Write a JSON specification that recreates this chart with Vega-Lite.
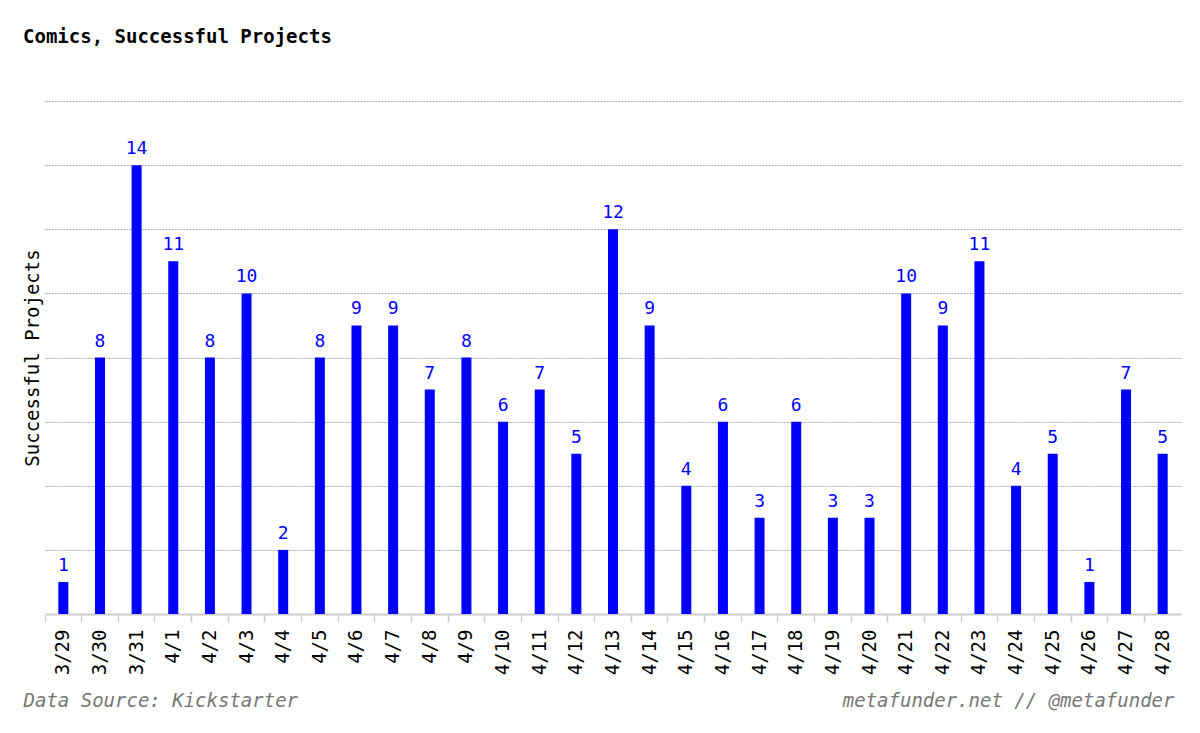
{
  "$schema": "https://vega.github.io/schema/vega-lite/v6.json",
  "width": 1136,
  "height": 513,
  "autosize": {"type": "none"},
  "padding": {"left": 45, "top": 101, "right": 19, "bottom": 119},
  "background": "white",
  "config": {
    "view": {"stroke": null},
    "font": "DejaVu Sans Mono"
  },
  "title": {
    "text": "Comics, Successful Projects",
    "anchor": "start",
    "frame": "group",
    "dx": -22,
    "offset": 54,
    "font": "DejaVu Sans Mono",
    "fontSize": 19,
    "fontWeight": "bold",
    "color": "black"
  },
  "data": {
    "values": [
      {"date": "3/29", "count": 1},
      {"date": "3/30", "count": 8},
      {"date": "3/31", "count": 14},
      {"date": "4/1", "count": 11},
      {"date": "4/2", "count": 8},
      {"date": "4/3", "count": 10},
      {"date": "4/4", "count": 2},
      {"date": "4/5", "count": 8},
      {"date": "4/6", "count": 9},
      {"date": "4/7", "count": 9},
      {"date": "4/8", "count": 7},
      {"date": "4/9", "count": 8},
      {"date": "4/10", "count": 6},
      {"date": "4/11", "count": 7},
      {"date": "4/12", "count": 5},
      {"date": "4/13", "count": 12},
      {"date": "4/14", "count": 9},
      {"date": "4/15", "count": 4},
      {"date": "4/16", "count": 6},
      {"date": "4/17", "count": 3},
      {"date": "4/18", "count": 6},
      {"date": "4/19", "count": 3},
      {"date": "4/20", "count": 3},
      {"date": "4/21", "count": 10},
      {"date": "4/22", "count": 9},
      {"date": "4/23", "count": 11},
      {"date": "4/24", "count": 4},
      {"date": "4/25", "count": 5},
      {"date": "4/26", "count": 1},
      {"date": "4/27", "count": 7},
      {"date": "4/28", "count": 5}
    ]
  },
  "encoding": {
    "x": {
      "field": "date",
      "type": "ordinal",
      "sort": null,
      "scale": {"paddingInner": 0, "paddingOuter": 0}
    },
    "y": {
      "field": "count",
      "type": "quantitative",
      "scale": {"domain": [0, 16], "nice": false}
    }
  },
  "layer": [
    {
      "mark": {"type": "bar", "color": "#0000ff", "size": 10},
      "encoding": {
        "x": {
          "field": "date",
          "type": "ordinal",
          "sort": null,
          "axis": {
            "labelAngle": -90,
            "labelAlign": "right",
            "labelBaseline": "middle",
            "labelFontSize": 19,
            "labelColor": "black",
            "labelPadding": 7,
            "labelFont": "DejaVu Sans Mono",
            "bandPosition": 0,
            "tickColor": "#cccccc",
            "tickWidth": 1.5,
            "tickSize": 8,
            "domainColor": "#cccccc",
            "domainWidth": 2,
            "grid": false,
            "title": "Data Source: Kickstarter",
            "titleFont": "DejaVu Sans Mono",
            "titleFontSize": 19,
            "titleFontStyle": "italic",
            "titleFontWeight": "normal",
            "titleColor": "#777777",
            "titleAnchor": "start",
            "titleAlign": "left",
            "titleBaseline": "middle",
            "titleX": -22,
            "titleY": 86
          }
        },
        "y": {
          "field": "count",
          "type": "quantitative",
          "axis": {
            "labels": false,
            "ticks": false,
            "domain": false,
            "values": [2, 4, 6, 8, 10, 12, 14, 16],
            "grid": true,
            "gridColor": "#aaaaaa",
            "gridDash": [2, 1],
            "gridWidth": 1,
            "title": "Successful Projects",
            "titleFont": "DejaVu Sans Mono",
            "titleFontSize": 19,
            "titleFontWeight": "normal",
            "titleColor": "black",
            "titlePadding": 3
          }
        }
      }
    },
    {
      "mark": {
        "type": "text",
        "color": "#0000ff",
        "baseline": "bottom",
        "dy": -7,
        "fontSize": 18,
        "font": "DejaVu Sans Mono"
      },
      "encoding": {
        "text": {"field": "count", "type": "quantitative"},
        "x": {
          "field": "date",
          "type": "ordinal",
          "sort": null,
          "axis": {
            "orient": "bottom",
            "labels": false,
            "ticks": false,
            "domain": false,
            "grid": false,
            "title": "metafunder.net // @metafunder",
            "titleFont": "DejaVu Sans Mono",
            "titleFontSize": 19,
            "titleFontStyle": "italic",
            "titleFontWeight": "normal",
            "titleColor": "#777777",
            "titleAnchor": "end",
            "titleAlign": "right",
            "titleBaseline": "middle",
            "titleX": 1129,
            "titleY": 86
          }
        }
      }
    }
  ],
  "resolve": {"axis": {"x": "independent"}}
}
